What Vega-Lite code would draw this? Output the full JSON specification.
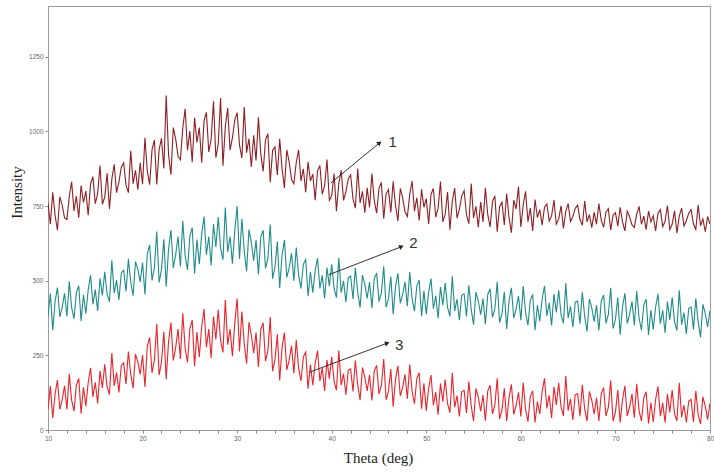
{
  "$schema": "https://vega.github.io/schema/vega-lite/v6.json",
  "width": 662,
  "height": 424,
  "autosize": {"type": "none"},
  "padding": {"left": 48, "top": 6, "right": 4, "bottom": 42},
  "background": "white",
  "config": {
    "view": {"stroke": "#9a9a9a", "strokeWidth": 1},
    "axis": {"grid": false, "labelFontSize": 6.5, "labelColor": "#666666", "labelFont": "Liberation Sans", "tickColor": "#8a8a8a", "domainColor": "#9a9a9a", "tickSize": 3, "titleFont": "Liberation Serif", "titleFontSize": 15, "titleFontWeight": "normal", "titleColor": "#222222", "labelOverlap": false}
  },
  "datasets": {
    "spectra": [
      {"t":10,"a":762,"b":380,"c":70},{"t":10.25,"a":689,"b":457,"c":147},{"t":10.5,"a":796,"b":334,"c":40},{"t":10.75,"a":718,"b":431,"c":121},{"t":11,"a":669,"b":477,"c":167},{"t":11.25,"a":781,"b":379,"c":69},{"t":11.5,"a":753,"b":411,"c":101},{"t":11.75,"a":710,"b":458,"c":148},
      {"t":12,"a":705,"b":380,"c":70},{"t":12.25,"a":783,"b":498,"c":188},{"t":12.5,"a":831,"b":410,"c":100},{"t":12.75,"a":734,"b":373,"c":63},{"t":13,"a":783,"b":460,"c":150},{"t":13.25,"a":711,"b":483,"c":173},{"t":13.5,"a":819,"b":365,"c":55},{"t":13.75,"a":762,"b":453,"c":143},
      {"t":14,"a":800,"b":390,"c":80},{"t":14.25,"a":719,"b":469,"c":159},{"t":14.5,"a":824,"b":518,"c":208},{"t":14.75,"a":848,"b":421,"c":111},{"t":15,"a":758,"b":470,"c":160},{"t":15.25,"a":792,"b":399,"c":89},{"t":15.5,"a":886,"b":508,"c":198},{"t":15.75,"a":756,"b":451,"c":141},
      {"t":16,"a":780,"b":530,"c":220},{"t":16.25,"a":860,"b":454,"c":144},{"t":16.5,"a":740,"b":429,"c":119},{"t":16.75,"a":840,"b":568,"c":258},{"t":17,"a":890,"b":458,"c":148},{"t":17.25,"a":795,"b":502,"c":192},{"t":17.5,"a":830,"b":436,"c":126},{"t":17.75,"a":880,"b":526,"c":216},
      {"t":18,"a":895,"b":535,"c":225},{"t":18.25,"a":820,"b":464,"c":154},{"t":18.5,"a":795,"b":573,"c":263},{"t":18.75,"a":935,"b":496,"c":186},{"t":19,"a":825,"b":450,"c":140},{"t":19.25,"a":870,"b":564,"c":254},{"t":19.5,"a":805,"b":538,"c":228},{"t":19.75,"a":895,"b":496,"c":186},
      {"t":20,"a":823,"b":561,"c":251},{"t":20.25,"a":979,"b":454,"c":144},{"t":20.5,"a":868,"b":590,"c":280},{"t":20.75,"a":822,"b":620,"c":310},{"t":21,"a":939,"b":501,"c":191},{"t":21.25,"a":971,"b":544,"c":234},{"t":21.5,"a":822,"b":665,"c":355},{"t":21.75,"a":939,"b":494,"c":184},
      {"t":22,"a":977,"b":537,"c":227},{"t":22.25,"a":876,"b":639,"c":329},{"t":22.5,"a":1120,"b":480,"c":170},{"t":22.75,"a":920,"b":607,"c":297},{"t":23,"a":855,"b":670,"c":360},{"t":23.25,"a":1013,"b":543,"c":233},{"t":23.5,"a":975,"b":586,"c":276},{"t":23.75,"a":917,"b":648,"c":338},
      {"t":24,"a":905,"b":548,"c":238},{"t":24.25,"a":1011,"b":701,"c":391},{"t":24.5,"a":1076,"b":585,"c":275},{"t":24.75,"a":937,"b":536,"c":226},{"t":25,"a":1001,"b":649,"c":339},{"t":25.25,"a":897,"b":678,"c":368},{"t":25.5,"a":1046,"b":524,"c":214},{"t":25.75,"a":963,"b":638,"c":328},
      {"t":26,"a":1013,"b":555,"c":245},{"t":26.25,"a":895,"b":655,"c":345},{"t":26.5,"a":1035,"b":715,"c":405},{"t":26.75,"a":1064,"b":587,"c":277},{"t":27,"a":931,"b":648,"c":338},{"t":27.25,"a":974,"b":551,"c":241},{"t":27.5,"a":1101,"b":690,"c":380},{"t":27.75,"a":912,"b":613,"c":303},
      {"t":28,"a":957,"b":713,"c":403},{"t":28.25,"a":1112,"b":609,"c":299},{"t":28.5,"a":885,"b":570,"c":260},{"t":28.75,"a":1016,"b":745,"c":435},{"t":29,"a":1078,"b":596,"c":286},{"t":29.25,"a":937,"b":648,"c":338},{"t":29.5,"a":978,"b":557,"c":247},{"t":29.75,"a":1039,"b":668,"c":358},
      {"t":30,"a":1063,"b":750,"c":440},{"t":30.25,"a":955,"b":573,"c":263},{"t":30.5,"a":911,"b":707,"c":397},{"t":30.75,"a":1082,"b":600,"c":290},{"t":31,"a":929,"b":532,"c":222},{"t":31.25,"a":976,"b":671,"c":361},{"t":31.5,"a":881,"b":629,"c":319},{"t":31.75,"a":987,"b":567,"c":257},
      {"t":32,"a":903,"b":636,"c":326},{"t":32.25,"a":1047,"b":521,"c":211},{"t":32.5,"a":924,"b":647,"c":337},{"t":32.75,"a":866,"b":669,"c":359},{"t":33,"a":972,"b":541,"c":231},{"t":33.25,"a":992,"b":575,"c":265},{"t":33.5,"a":830,"b":688,"c":378},{"t":33.75,"a":936,"b":507,"c":197},
      {"t":34,"a":948,"b":545,"c":235},{"t":34.25,"a":854,"b":631,"c":321},{"t":34.5,"a":975,"b":476,"c":166},{"t":34.75,"a":875,"b":586,"c":276},{"t":35,"a":811,"b":636,"c":326},{"t":35.25,"a":938,"b":511,"c":201},{"t":35.5,"a":898,"b":543,"c":233},{"t":35.75,"a":839,"b":592,"c":282},
      {"t":36,"a":825,"b":500,"c":190},{"t":36.25,"a":896,"b":611,"c":301},{"t":36.5,"a":938,"b":518,"c":208},{"t":36.75,"a":834,"b":474,"c":164},{"t":37,"a":875,"b":555,"c":245},{"t":37.25,"a":796,"b":571,"c":261},{"t":37.5,"a":898,"b":448,"c":138},{"t":37.75,"a":834,"b":529,"c":219},
      {"t":38,"a":857,"b":460,"c":150},{"t":38.25,"a":770,"b":533,"c":223},{"t":38.5,"a":868,"b":576,"c":266},{"t":38.75,"a":886,"b":474,"c":164},{"t":39,"a":790,"b":518,"c":208},{"t":39.25,"a":818,"b":441,"c":131},{"t":39.5,"a":906,"b":544,"c":234},{"t":39.75,"a":769,"b":482,"c":172},
      {"t":40,"a":785,"b":555,"c":245},{"t":40.25,"a":859,"b":474,"c":164},{"t":40.5,"a":733,"b":443,"c":133},{"t":40.75,"a":826,"b":576,"c":266},{"t":41,"a":870,"b":460,"c":150},{"t":41.25,"a":769,"b":499,"c":189},{"t":41.5,"a":798,"b":428,"c":118},{"t":41.75,"a":841,"b":511,"c":201},
      {"t":42,"a":855,"b":515,"c":205},{"t":42.25,"a":774,"b":439,"c":129},{"t":42.5,"a":743,"b":543,"c":233},{"t":42.75,"a":876,"b":461,"c":151},{"t":43,"a":760,"b":410,"c":100},{"t":43.25,"a":799,"b":519,"c":209},{"t":43.5,"a":728,"b":488,"c":178},{"t":43.75,"a":811,"b":441,"c":131},
      {"t":44,"a":745,"b":495,"c":185},{"t":44.25,"a":859,"b":409,"c":99},{"t":44.5,"a":768,"b":508,"c":198},{"t":44.75,"a":726,"b":526,"c":216},{"t":45,"a":810,"b":430,"c":120},{"t":45.25,"a":829,"b":459,"c":149},{"t":45.5,"a":708,"b":548,"c":238},{"t":45.75,"a":791,"b":411,"c":101},
      {"t":46,"a":805,"b":440,"c":130},{"t":46.25,"a":729,"b":514,"c":204},{"t":46.5,"a":833,"b":388,"c":78},{"t":46.75,"a":751,"b":481,"c":171},{"t":47,"a":700,"b":525,"c":215},{"t":47.25,"a":809,"b":424,"c":114},{"t":47.5,"a":778,"b":453,"c":143},{"t":47.75,"a":731,"b":496,"c":186},
      {"t":48,"a":715,"b":415,"c":105},{"t":48.25,"a":789,"b":529,"c":219},{"t":48.5,"a":834,"b":439,"c":129},{"t":48.75,"a":733,"b":398,"c":88},{"t":49,"a":778,"b":483,"c":173},{"t":49.25,"a":702,"b":502,"c":192},{"t":49.5,"a":806,"b":381,"c":71},{"t":49.75,"a":746,"b":466,"c":156},
      {"t":50,"a":775,"b":388,"c":65},{"t":50.25,"a":690,"b":462,"c":139},{"t":50.5,"a":789,"b":507,"c":184},{"t":50.75,"a":809,"b":406,"c":83},{"t":51,"a":713,"b":450,"c":127},{"t":51.25,"a":743,"b":374,"c":51},{"t":51.5,"a":832,"b":479,"c":156},{"t":51.75,"a":697,"b":418,"c":95},
      {"t":52,"a":722,"b":492,"c":169},{"t":52.25,"a":797,"b":411,"c":88},{"t":52.5,"a":671,"b":381,"c":58},{"t":52.75,"a":766,"b":515,"c":192},{"t":53,"a":810,"b":399,"c":76},{"t":53.25,"a":710,"b":438,"c":115},{"t":53.5,"a":739,"b":368,"c":45},{"t":53.75,"a":784,"b":452,"c":129},
      {"t":54,"a":802,"b":456,"c":133},{"t":54.25,"a":721,"b":380,"c":57},{"t":54.5,"a":691,"b":485,"c":162},{"t":54.75,"a":825,"b":404,"c":81},{"t":55,"a":710,"b":353,"c":30},{"t":55.25,"a":749,"b":462,"c":139},{"t":55.5,"a":679,"b":432,"c":109},{"t":55.75,"a":763,"b":386,"c":63},
      {"t":56,"a":697,"b":440,"c":117},{"t":56.25,"a":811,"b":354,"c":31},{"t":56.5,"a":721,"b":454,"c":131},{"t":56.75,"a":680,"b":473,"c":150},{"t":57,"a":765,"b":377,"c":54},{"t":57.25,"a":784,"b":406,"c":83},{"t":57.5,"a":664,"b":496,"c":173},{"t":57.75,"a":748,"b":360,"c":37},
      {"t":58,"a":763,"b":389,"c":66},{"t":58.25,"a":687,"b":463,"c":140},{"t":58.5,"a":792,"b":338,"c":30},{"t":58.75,"a":711,"b":432,"c":109},{"t":59,"a":661,"b":476,"c":153},{"t":59.25,"a":770,"b":375,"c":52},{"t":59.5,"a":740,"b":405,"c":82},{"t":59.75,"a":815,"b":449,"c":126},
      {"t":60,"a":680,"b":368,"c":45},{"t":60.25,"a":754,"b":482,"c":159},{"t":60.5,"a":799,"b":392,"c":69},{"t":60.75,"a":698,"b":351,"c":28},{"t":61,"a":743,"b":435,"c":112},{"t":61.25,"a":667,"b":454,"c":131},{"t":61.5,"a":772,"b":334,"c":25},{"t":61.75,"a":711,"b":418,"c":95},
      {"t":62,"a":738,"b":364,"c":54},{"t":62.25,"a":686,"b":438,"c":128},{"t":62.5,"a":746,"b":483,"c":173},{"t":62.75,"a":757,"b":382,"c":72},{"t":63,"a":700,"b":426,"c":116},{"t":63.25,"a":717,"b":350,"c":40},{"t":63.5,"a":770,"b":455,"c":145},{"t":63.75,"a":689,"b":394,"c":84},
      {"t":64,"a":706,"b":468,"c":158},{"t":64.25,"a":751,"b":387,"c":77},{"t":64.5,"a":675,"b":357,"c":47},{"t":64.75,"a":732,"b":491,"c":181},{"t":65,"a":758,"b":375,"c":65},{"t":65.25,"a":698,"b":414,"c":104},{"t":65.5,"a":715,"b":344,"c":34},{"t":65.75,"a":742,"b":428,"c":118},
      {"t":66,"a":753,"b":432,"c":122},{"t":66.25,"a":705,"b":356,"c":46},{"t":66.5,"a":686,"b":461,"c":151},{"t":66.75,"a":767,"b":380,"c":70},{"t":67,"a":697,"b":330,"c":30},{"t":67.25,"a":721,"b":439,"c":129},{"t":67.5,"a":678,"b":409,"c":99},{"t":67.75,"a":729,"b":363,"c":53},
      {"t":68,"a":689,"b":418,"c":108},{"t":68.25,"a":758,"b":333,"c":30},{"t":68.5,"a":703,"b":432,"c":122},{"t":68.75,"a":679,"b":452,"c":142},{"t":69,"a":730,"b":357,"c":47},{"t":69.25,"a":741,"b":386,"c":76},{"t":69.5,"a":669,"b":476,"c":166},{"t":69.75,"a":719,"b":340,"c":30},
      {"t":70,"a":728,"b":370,"c":60},{"t":70.25,"a":683,"b":444,"c":134},{"t":70.5,"a":746,"b":319,"c":25},{"t":70.75,"a":697,"b":413,"c":103},{"t":71,"a":667,"b":458,"c":148},{"t":71.25,"a":733,"b":357,"c":47},{"t":71.5,"a":714,"b":387,"c":77},{"t":71.75,"a":687,"b":431,"c":121},
      {"t":72,"a":678,"b":351,"c":41},{"t":72.25,"a":723,"b":465,"c":155},{"t":72.5,"a":749,"b":375,"c":65},{"t":72.75,"a":689,"b":334,"c":30},{"t":73,"a":716,"b":419,"c":109},{"t":73.25,"a":671,"b":438,"c":128},{"t":73.5,"a":733,"b":318,"c":22},{"t":73.75,"a":697,"b":402,"c":92},
      {"t":74,"a":718,"b":337,"c":27},{"t":74.25,"a":667,"b":412,"c":102},{"t":74.5,"a":726,"b":456,"c":146},{"t":74.75,"a":738,"b":356,"c":46},{"t":75,"a":681,"b":401,"c":91},{"t":75.25,"a":699,"b":325,"c":25},{"t":75.5,"a":752,"b":430,"c":120},{"t":75.75,"a":671,"b":369,"c":59},
      {"t":76,"a":689,"b":444,"c":134},{"t":76.25,"a":734,"b":364,"c":54},{"t":76.5,"a":659,"b":333,"c":30},{"t":76.75,"a":716,"b":468,"c":158},{"t":77,"a":743,"b":353,"c":43},{"t":77.25,"a":683,"b":393,"c":83},{"t":77.5,"a":701,"b":322,"c":25},{"t":77.75,"a":726,"b":407,"c":97},
      {"t":78,"a":738,"b":412,"c":102},{"t":78.25,"a":690,"b":337,"c":27},{"t":78.5,"a":672,"b":441,"c":131},{"t":78.75,"a":753,"b":361,"c":51},{"t":79,"a":684,"b":311,"c":20},{"t":79.25,"a":707,"b":421,"c":111},{"t":79.5,"a":664,"b":390,"c":80},{"t":79.75,"a":715,"b":345,"c":35},
      {"t":80,"a":690,"b":400,"c":90}
    ],
    "arrows": [
      {"label":"1","x":39.9,"y":827,"x2":45.0,"y2":960,"lx":46.0,"ly":963,"ang":50},
      {"label":"2","x":39.7,"y":520,"x2":47.3,"y2":613,"lx":48.2,"ly":627,"ang":69},
      {"label":"3","x":37.6,"y":193,"x2":45.8,"y2":290,"lx":46.7,"ly":283,"ang":70}
    ]
  },
  "layer": [
    {
      "data": {"name": "spectra"},
      "transform": [{"fold": ["a", "b", "c"], "as": ["s", "v"]}],
      "mark": {"type": "line", "strokeWidth": 1.1, "interpolate": "linear", "clip": true},
      "encoding": {
        "x": {"field": "t", "type": "quantitative", "scale": {"domain": [10, 80], "nice": false, "zero": false},
              "axis": {"title": "Theta (deg)", "values": [10,12,14,16,18,20,22,24,26,28,30,32,34,36,38,40,42,44,46,48,50,52,54,56,58,60,62,64,66,68,70,72,74,76,78,80], "tickCount": 60,
                       "labelExpr": "datum.value % 10 === 0 ? format(datum.value, 'd') : ''", "labelOverlap": false, "labelBound": false, "labelFlush": false, "titleX": 330, "titleY": 27, "titleBaseline": "middle", "titleAlign": "center", "labelPadding": 2}},
        "y": {"field": "v", "type": "quantitative", "scale": {"domain": [0, 1420], "nice": false},
              "axis": {"title": "Intensity", "values": [0, 250, 500, 750, 1000, 1250], "format": "d", "labelOverlap": false, "titleX": -32, "titleY": 186, "titleBaseline": "middle", "titleAlign": "center", "titleAngle": -90, "labelPadding": 2}},
        "color": {"field": "s", "type": "nominal", "scale": {"domain": ["a", "b", "c"], "range": ["#8e1f24", "#1f8c89", "#e8242c"]}, "legend": null},
        "detail": {"field": "s"}
      }
    },
    {
      "data": {"name": "arrows"},
      "mark": {"type": "rule", "color": "#333333", "strokeWidth": 1},
      "encoding": {
        "x": {"field": "x", "type": "quantitative"},
        "y": {"field": "y", "type": "quantitative"},
        "x2": {"field": "x2"},
        "y2": {"field": "y2"}
      }
    },
    {
      "data": {"name": "arrows"},
      "mark": {"type": "point", "shape": "triangle", "filled": true, "color": "#222222", "size": 28, "opacity": 1},
      "encoding": {
        "x": {"field": "x2", "type": "quantitative"},
        "y": {"field": "y2", "type": "quantitative"},
        "angle": {"field": "ang", "type": "quantitative", "scale": null}
      }
    },
    {
      "data": {"name": "arrows"},
      "mark": {"type": "text", "font": "Liberation Sans", "fontSize": 15, "color": "#333333", "align": "left", "baseline": "middle"},
      "encoding": {
        "x": {"field": "lx", "type": "quantitative"},
        "y": {"field": "ly", "type": "quantitative"},
        "text": {"field": "label"}
      }
    }
  ]
}
